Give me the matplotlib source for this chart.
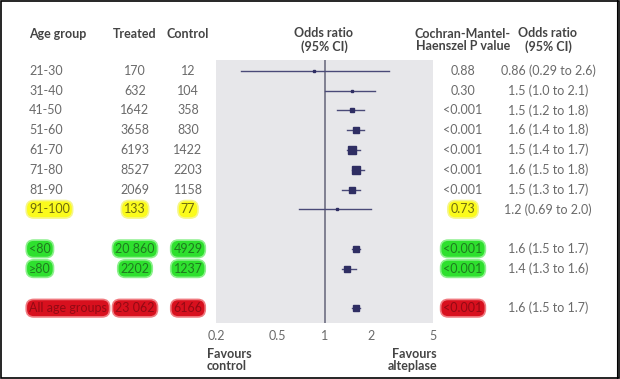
import matplotlib
matplotlib.use("Agg")
import matplotlib.pyplot as plt
import matplotlib.transforms as mtransforms
from matplotlib.patches import Rectangle
import numpy as np

plt.rcParams["font.family"] = ["Lato", "DejaVu Sans"]

# data
age_groups = ["21-30", "31-40", "41-50", "51-60", "61-70", "71-80", "81-90", "91-100",
              "<80", "\u226580", "All age groups"]
treated = ["170", "632", "1642", "3658", "6193", "8527", "2069", "133",
           "20 860", "2202", "23 062"]
control = ["12", "104", "358", "830", "1422", "2203", "1158", "77",
           "4929", "1237", "6166"]
p_values = ["0.88", "0.30", "<0.001", "<0.001", "<0.001", "<0.001", "<0.001", "0.73",
            "<0.001", "<0.001", "<0.001"]
odds = [0.86, 1.5, 1.5, 1.6, 1.5, 1.6, 1.5, 1.2, 1.6, 1.4, 1.6]
ci_low = [0.29, 1.0, 1.2, 1.4, 1.4, 1.5, 1.3, 0.69, 1.5, 1.3, 1.5]
ci_high = [2.6, 2.1, 1.8, 1.8, 1.7, 1.8, 1.7, 2.0, 1.7, 1.6, 1.7]
or_text = ["0.86 (0.29 to 2.6)", "1.5 (1.0 to 2.1)", "1.5 (1.2 to 1.8)", "1.6 (1.4 to 1.8)",
           "1.5 (1.4 to 1.7)", "1.6 (1.5 to 1.8)", "1.5 (1.3 to 1.7)", "1.2 (0.69 to 2.0)",
           "1.6 (1.5 to 1.7)", "1.4 (1.3 to 1.6)", "1.6 (1.5 to 1.7)"]
ticks = [0.2, 0.5, 1, 2, 5]
tick_labels = ["0.2", "0.5", "1", "2", "5"]

rows = [0, 1, 2, 3, 4, 5, 6, 7, 9, 10, 12]
summary = [False] * 8 + [True, True, True]
highlight = [None] * 7 + ["yellow", "green", "green", "red"]

hl_face = {"yellow": "#fbfb1c", "green": "#2ee02e", "red": "#d8101e"}
hl_text = {"yellow": "#6e6a10", "green": "#1f7a1f", "red": "#930a14"}
hl_edge = {"yellow": "#f6f68a", "green": "#8cf08c", "red": "#f07a80"}

W, H = 620, 379
fig = plt.figure(figsize=(W / 100, H / 100), dpi=100)
fig.patch.set_facecolor("white")

ax = fig.add_axes([216 / W, 1 - 323 / H, 217 / W, 263 / H])
ax.set_facecolor("#e7e7ea")
ax.set_xscale("log")
ax.set_xlim(0.2, 5)
ax.set_ylim(12.75, -0.55)
for s in ax.spines.values():
    s.set_visible(False)
ax.set_yticks([])
ax.set_xticks(ticks)
ax.set_xticklabels(tick_labels)
ax.xaxis.set_minor_locator(matplotlib.ticker.NullLocator())
ax.tick_params(axis="x", length=0, pad=5, labelsize=9, labelcolor="#6a6a6a")

ax.axvline(1, color="#6e6e82", lw=1.2, zorder=2)

navy = "#2f2e63"
for i, r in enumerate(rows):
    ax.plot([ci_low[i], ci_high[i]], [r, r], color="#4a4a78", lw=1.0, zorder=3)
    width = np.log(ci_high[i]) - np.log(ci_low[i])
    # square side from the inverse CI width; summary rows fixed
    side = 6.5 if summary[i] else max(2.0, 1.6 / width)
    ax.plot(odds[i], r, marker="s", ms=side * 0.72, color=navy, zorder=4, lw=0)

# text columns
tr = mtransforms.blended_transform_factory(fig.transFigure, ax.transData)
body = dict(fontsize=9, color="#6a6a6a", va="center", transform=tr)


def cell(x, r, s, ha, hl):
    kw = dict(body)
    if hl:
        kw["color"] = hl_text[hl]
        kw["bbox"] = dict(boxstyle="round,pad=0.22,rounding_size=0.6",
                          fc=hl_face[hl], ec=hl_edge[hl], lw=1.2)
    fig.text(x, r, s, ha=ha, **kw)


for i, r in enumerate(rows):
    cell(29 / W, r, age_groups[i], "left", highlight[i])
    cell(135 / W, r, treated[i], "center", highlight[i])
    cell(188 / W, r, control[i], "center", highlight[i])
    cell(463 / W, r, p_values[i], "center", highlight[i])
    cell(548 / W, r, or_text[i], "center", None)

# headers
hdr = dict(fontsize=9, fontweight="bold", color="#444444", va="center")
fig.text(29 / W, 1 - 34 / H, "Age group", ha="left", **hdr)
fig.text(135 / W, 1 - 34 / H, "Treated", ha="center", **hdr)
fig.text(188 / W, 1 - 34 / H, "Control", ha="center", **hdr)
fig.text(324 / W, 1 - 40 / H, "Odds ratio\n(95% CI)", ha="center", linespacing=1.05, **hdr)
fig.text(463 / W, 1 - 40 / H, "Cochran-Mantel-\nHaenszel P value", ha="center", linespacing=1.05, **hdr)
fig.text(548 / W, 1 - 40 / H, "Odds ratio\n(95% CI)", ha="center", linespacing=1.05, **hdr)

fig.text(207 / W, 1 - 360 / H, "Favours\ncontrol", ha="left", linespacing=1.05, **hdr)
fig.text(437 / W, 1 - 360 / H, "Favours\nalteplase", ha="right", linespacing=1.05, **hdr)

# frame
fig.patches.append(Rectangle((0.5 / W, 1.5 / H), (W - 2) / W, (H - 2.5) / H,
                             transform=fig.transFigure, fill=False, ec="black", lw=1.2))
fig.lines.append(plt.Line2D([616.5 / W, 616.5 / W], [1.5 / H, 1], transform=fig.transFigure,
                            color="black", lw=0.8))

fig.savefig("out.png", dpi=100, facecolor="white")
